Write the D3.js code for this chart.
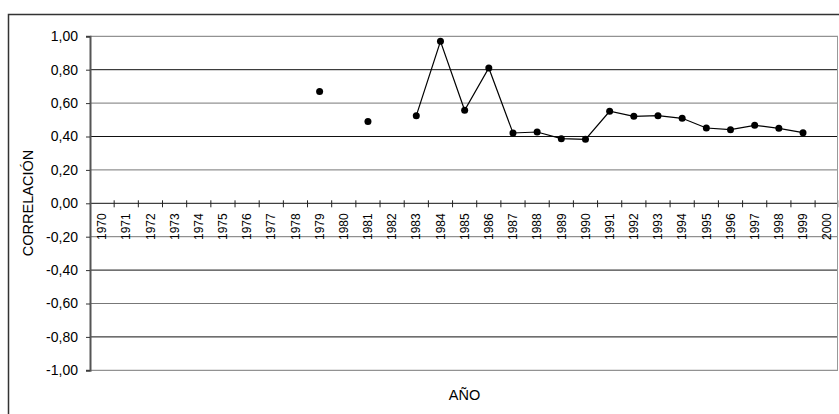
<!DOCTYPE html>
<html lang="es">
<head>
<meta charset="UTF-8">
<title>Correlación por año</title>
<script src="https://d3js.org/d3.v7.min.js"></script>
<style>
  body { margin: 0; background: #fff; }
  svg text { font-family: "Liberation Sans", Arial, sans-serif; fill: #000; }
</style>
</head>
<body>
<svg width="839" height="414"></svg>
<script>
// categorias (años) y valores de correlación
const years = d3.range(1970, 2001).map(String);
const corrYears = ["1979", "1981", "1983", "1984", "1985", "1986", "1987", "1988", "1989", "1990",
                   "1991", "1992", "1993", "1994", "1995", "1996", "1997", "1998", "1999"];
const corrValues = [0.67, 0.49, 0.525, 0.97, 0.557, 0.81, 0.421, 0.427, 0.387, 0.383,
                    0.551, 0.521, 0.525, 0.509, 0.451, 0.441, 0.467, 0.449, 0.423];
const yTicks = [1, 0.8, 0.6, 0.4, 0.2, 0, -0.2, -0.4, -0.6, -0.8, -1];

const margin = {top: 36.3, right: 1, bottom: 43.7, left: 90};
const width = 839 - margin.left - margin.right;
const height = 414 - margin.top - margin.bottom;

const root = d3.select("svg");

// marco exterior
root.append("rect")
  .attr("x", 8.5).attr("y", 14.5)
  .attr("width", 840).attr("height", 410)
  .attr("fill", "none").attr("stroke", "#333").attr("stroke-width", 1.5);

const svg = root.append("g")
  .attr("transform", `translate(${margin.left},${margin.top})`);

const x = d3.scaleBand().domain(years).range([0, 31 * 24.17]);
const y = d3.scaleLinear().domain([-1, 1]).range([height, 0]);

// lineas de cuadricula
svg.append("g")
  .selectAll("line")
  .data(yTicks)
  .join("line")
  .attr("x1", 0).attr("x2", width)
  .attr("y1", d => y(d)).attr("y2", d => y(d))
  .attr("stroke", (d, i) => i % 2 ? "#111" : "#777")
  .attr("stroke-width", 1);

// borde derecho del area
svg.append("line")
  .attr("x1", width - 0.5).attr("x2", width - 0.5)
  .attr("y1", 0).attr("y2", height)
  .attr("stroke", "#999");

// eje Y
const yAxis = svg.append("g")
  .call(d3.axisLeft(y).tickValues(yTicks).tickSize(4).tickPadding(8)
    .tickFormat(d => d3.format(".2f")(d).replace(".", ",").replace("−", "-")));
yAxis.select(".domain").attr("stroke", "#555").attr("stroke-width", 2);
yAxis.selectAll(".tick line").attr("stroke", "#333");
yAxis.selectAll("text").style("font-size", "14px");

// eje X en y = 0
const xg = svg.append("g").attr("transform", `translate(0,${y(0)})`);
const bounds = d3.range(1, years.length + 1).map(i => i * x.bandwidth());
xg.selectAll("line.tk")
  .data(bounds)
  .join("line")
  .attr("class", "tk")
  .attr("x1", d => d).attr("x2", d => d)
  .attr("y1", -3).attr("y2", 4)
  .attr("stroke", "#222");
xg.selectAll("text")
  .data(years)
  .join("text")
  .attr("transform", d => `translate(${x(d) + x.bandwidth() / 2},10) rotate(-90)`)
  .attr("dy", "0.35em")
  .attr("text-anchor", "end")
  .style("font-size", "12px")
  .text(d => d);

// serie
const pts = years.map(yr => {
  const k = corrYears.indexOf(yr);
  return {year: yr, value: k >= 0 ? corrValues[k] : null};
});

const line = d3.line()
  .defined(d => d.value !== null)
  .x(d => x(d.year) + x.bandwidth() / 2)
  .y(d => y(d.value));

svg.append("path")
  .datum(pts)
  .attr("fill", "none")
  .attr("stroke", "#000")
  .attr("stroke-width", 1.2)
  .attr("d", line);

svg.selectAll("circle")
  .data(pts.filter(d => d.value !== null))
  .join("circle")
  .attr("cx", d => x(d.year) + x.bandwidth() / 2)
  .attr("cy", d => y(d.value))
  .attr("r", 3.5)
  .attr("fill", "#000");

// titulos de ejes
root.append("text")
  .attr("transform", "translate(28,203) rotate(-90)")
  .attr("text-anchor", "middle")
  .attr("dy", "0.35em")
  .style("font-size", "14.5px")
  .text("CORRELACIÓN");

root.append("text")
  .attr("x", 464.5).attr("y", 395)
  .attr("text-anchor", "middle")
  .attr("dy", "0.35em")
  .style("font-size", "14.5px")
  .text("AÑO");
</script>
</body>
</html>
